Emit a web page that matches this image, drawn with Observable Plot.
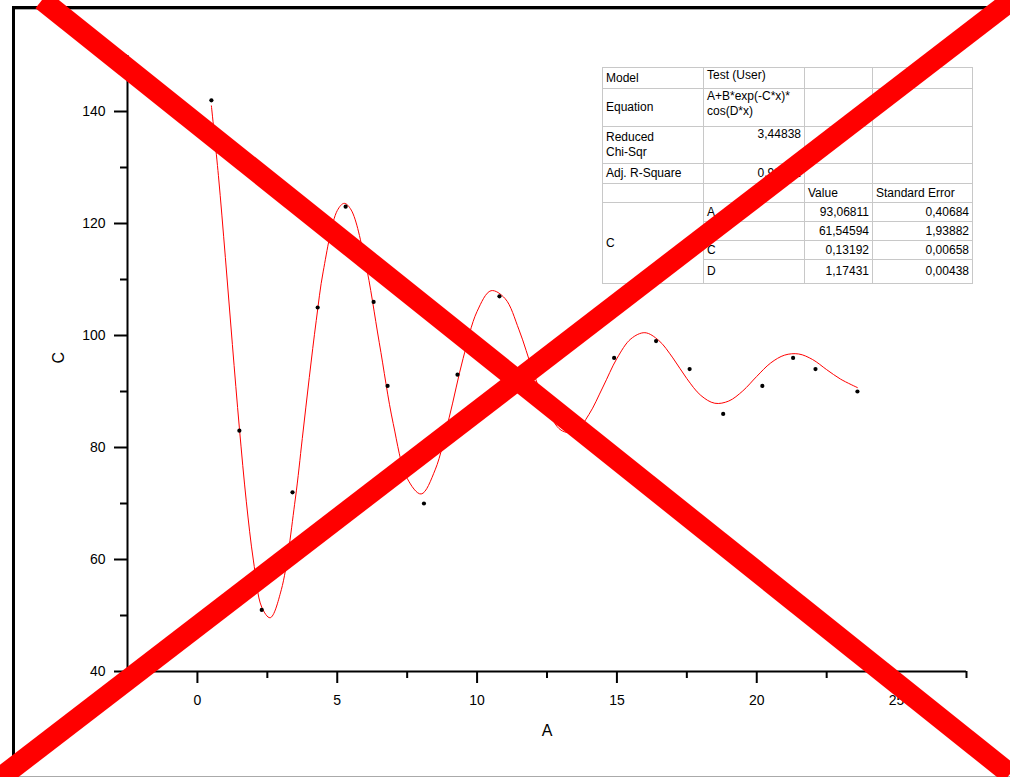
<!DOCTYPE html>
<html>
<head>
<meta charset="utf-8">
<script src="https://cdn.jsdelivr.net/npm/d3@7"></script>
<script src="https://cdn.jsdelivr.net/npm/@observablehq/plot@0.6"></script>
<style>
  html, body { margin: 0; padding: 0; background: #fff; }
  #page { position: relative; width: 1010px; height: 777px; overflow: hidden; background: #fff; font-family: "Liberation Sans", Arial, sans-serif; }
  #chart { position: absolute; left: 0; top: 0; }
  #frame { position: absolute; left: 12px; top: 6px; width: 996px; height: 790px; border-left: 3px solid #000; border-top: 3px solid #000; box-sizing: border-box; }
  #frameInner { position: absolute; left: 15px; top: 9px; width: 990px; height: 0; border-top: 1px solid #aaa; }
  #bottomLine { position: absolute; left: 0; top: 776px; width: 1010px; height: 0; border-top: 1px solid #aaa; }
  #stats { position: absolute; left: 602px; top: 67px; border-collapse: collapse; table-layout: fixed; font-family: "Liberation Sans", Arial, sans-serif; font-size: 12px; line-height: 15px; color: #000; background: #fff; border: 1px solid #404040; }
  #stats td { border: 1px solid #c8c8c8; padding: 0 3px; vertical-align: middle; white-space: nowrap; overflow: hidden; }
  #stats td.top { vertical-align: top; }
  #stats td.num { text-align: right; }
  #xmark { position: absolute; left: 0; top: 0; pointer-events: none; }
</style>
</head>
<body>
<div id="page">
  <div id="chart"></div>
  <div id="frame"></div>
  <div id="frameInner"></div>
  <div id="bottomLine"></div>
  <table id="stats"></table>
  <svg id="xmark" width="1010" height="777" viewBox="0 0 1010 777"></svg>
</div>
<script>
// ---- scatter data ----
const dataX = [0.5, 1.5, 2.3, 3.4, 4.3, 5.3, 6.3, 6.8, 8.1, 9.3, 10.8, 14.9, 16.4, 17.6, 18.8, 20.2, 21.3, 22.1, 23.6];
const dataY = [142, 83, 51, 72, 105, 123, 106, 91, 70, 93, 107, 96, 99, 94, 86, 91, 96, 94, 90];

// ---- fitted curve ----
const fitX = [0.5, 0.75, 1, 1.25, 1.5, 1.75, 2, 2.3, 2.6, 3, 3.5, 3.75, 4, 4.25, 4.5, 5, 5.25, 5.5, 6, 6.5, 7, 7.5, 8, 8.5, 9, 9.5, 10, 10.5, 11, 11.5, 12, 12.5, 13, 13.5, 14, 14.5, 15, 15.5, 16, 16.5, 17, 17.5, 18, 18.5, 19, 19.5, 20, 20.5, 21, 21.5, 22, 22.5, 23, 23.6];
const fitY = [141.0, 128.6, 113.9, 98.4, 83.5, 70.3, 59.9, 51.5, 49.6, 54.6, 70.8, 81.6, 92.5, 102.7, 111.5, 122.3, 123.6, 122.4, 113.2, 98.8, 84.3, 74.5, 71.7, 76.0, 85.3, 95.9, 104.3, 108.0, 106.6, 101.0, 93.6, 87.0, 83.1, 82.8, 85.9, 90.8, 95.9, 99.4, 100.5, 99.1, 96.0, 92.3, 89.3, 87.9, 88.3, 90.1, 92.7, 95.1, 96.5, 96.7, 95.7, 93.9, 92.2, 90.7];

// ---- axes ----
const xMajor = [0, 5, 10, 15, 20, 25];
const xMinor = [-2.5, 2.5, 7.5, 12.5, 17.5, 22.5, 27.5];
const yMajor = [40, 60, 80, 100, 120, 140];
const yMinor = [50, 70, 90, 110, 130, 150];
const xDomain = [-2.5, 27.5];
const yDomain = [40, 150];
const xTitle = "A";
const yTitle = "C";

// ---- fit table ----
const tableLabels = ["Model", "Equation", "Reduced\nChi-Sqr", "Adj. R-Square"];
const tableInfo = ["Test (User)", "A+B*exp(-C*x)*\ncos(D*x)", "3,44838", "0,98652"];
const paramHeader = ["Value", "Standard Error"];
const paramGroup = "C";
const paramNames = ["A", "B", "C", "D"];
const paramValues = ["93,06811", "61,54594", "0,13192", "1,17431"];
const paramErrors = ["0,40684", "1,93882", "0,00658", "0,00438"];

const points = dataX.map((x, i) => ({x, y: dataY[i]}));
const fit = fitX.map((x, i) => ({x, y: fitY[i]}));

const plot = Plot.plot({
  width: 1010,
  height: 777,
  marginLeft: 127,
  marginRight: 44,
  marginTop: 55,
  marginBottom: 106,
  style: {background: "transparent", fontFamily: "Liberation Sans, Arial, sans-serif", fontSize: "14px", color: "#000", overflow: "visible"},
  x: {domain: xDomain},
  y: {domain: yDomain},
  marks: [
    Plot.line(fit, {x: "x", y: "y", stroke: "#ff0000", strokeWidth: 1, curve: "catmull-rom"}),
    Plot.dot(points, {x: "x", y: "y", r: 2.1, fill: "#000", stroke: null}),
    Plot.axisX(xMinor, {tickSize: 7, strokeWidth: 2, text: null, label: null}),
    Plot.axisX(xMajor, {tickSize: 12, tickPadding: 12, strokeWidth: 2, label: null, fontSize: 14}),
    Plot.axisY(yMinor, {tickSize: 7, strokeWidth: 2, text: null, label: null}),
    Plot.axisY(yMajor, {tickSize: 13, tickPadding: 9, strokeWidth: 2, label: null, fontSize: 14}),
    Plot.ruleY([yDomain[0]], {stroke: "#000", strokeWidth: 2}),
    Plot.ruleX([xDomain[0]], {stroke: "#000", strokeWidth: 2}),
    Plot.text([xTitle], {text: d => d, frameAnchor: "bottom", dy: 59, fontSize: 16, lineAnchor: "middle"}),
    Plot.text([yTitle], {text: d => d, frameAnchor: "left", dx: -69, rotate: -90, fontSize: 16, lineAnchor: "middle"})
  ]
});
document.getElementById("chart").appendChild(plot);

// ---- build table ----
const table = document.getElementById("stats");
const colW = [101, 101, 68, 100];
const cg = document.createElement("colgroup");
colW.forEach(w => { const c = document.createElement("col"); c.style.width = w + "px"; cg.appendChild(c); });
table.appendChild(cg);
const rowH = [21, 38, 37, 20, 19, 19, 19, 19, 24];
function cell(tr, text, cls) {
  const td = document.createElement("td");
  if (cls) td.className = cls;
  td.innerHTML = (text || "").split("\n").join("<br>");
  tr.appendChild(td);
  return td;
}
tableLabels.forEach((lab, i) => {
  const tr = document.createElement("tr");
  tr.style.height = rowH[i] + "px";
  cell(tr, lab);
  const isNum = i >= 2;
  cell(tr, tableInfo[i], (i < 3 ? "top " : "") + (isNum ? "num" : ""));
  cell(tr, "");
  cell(tr, "");
  table.appendChild(tr);
});
{
  const tr = document.createElement("tr");
  tr.style.height = rowH[4] + "px";
  cell(tr, ""); cell(tr, ""); cell(tr, paramHeader[0]); cell(tr, paramHeader[1]);
  table.appendChild(tr);
}
paramNames.forEach((p, i) => {
  const tr = document.createElement("tr");
  tr.style.height = rowH[5 + i] + "px";
  if (i === 0) { const td = cell(tr, paramGroup); td.rowSpan = paramNames.length; }
  cell(tr, p);
  cell(tr, paramValues[i], "num");
  cell(tr, paramErrors[i], "num");
  table.appendChild(tr);
});

// ---- red cross overlay ----
const xs = document.getElementById("xmark");
const NS = "http://www.w3.org/2000/svg";
[[42, 0, 1010, 774], [1012, 0, 0, 778]].forEach(([a, b, c, d]) => {
  const l = document.createElementNS(NS, "line");
  l.setAttribute("x1", a); l.setAttribute("y1", b); l.setAttribute("x2", c); l.setAttribute("y2", d);
  l.setAttribute("stroke", "#ff0000"); l.setAttribute("stroke-width", 21);
  xs.appendChild(l);
});
</script>
</body>
</html>
